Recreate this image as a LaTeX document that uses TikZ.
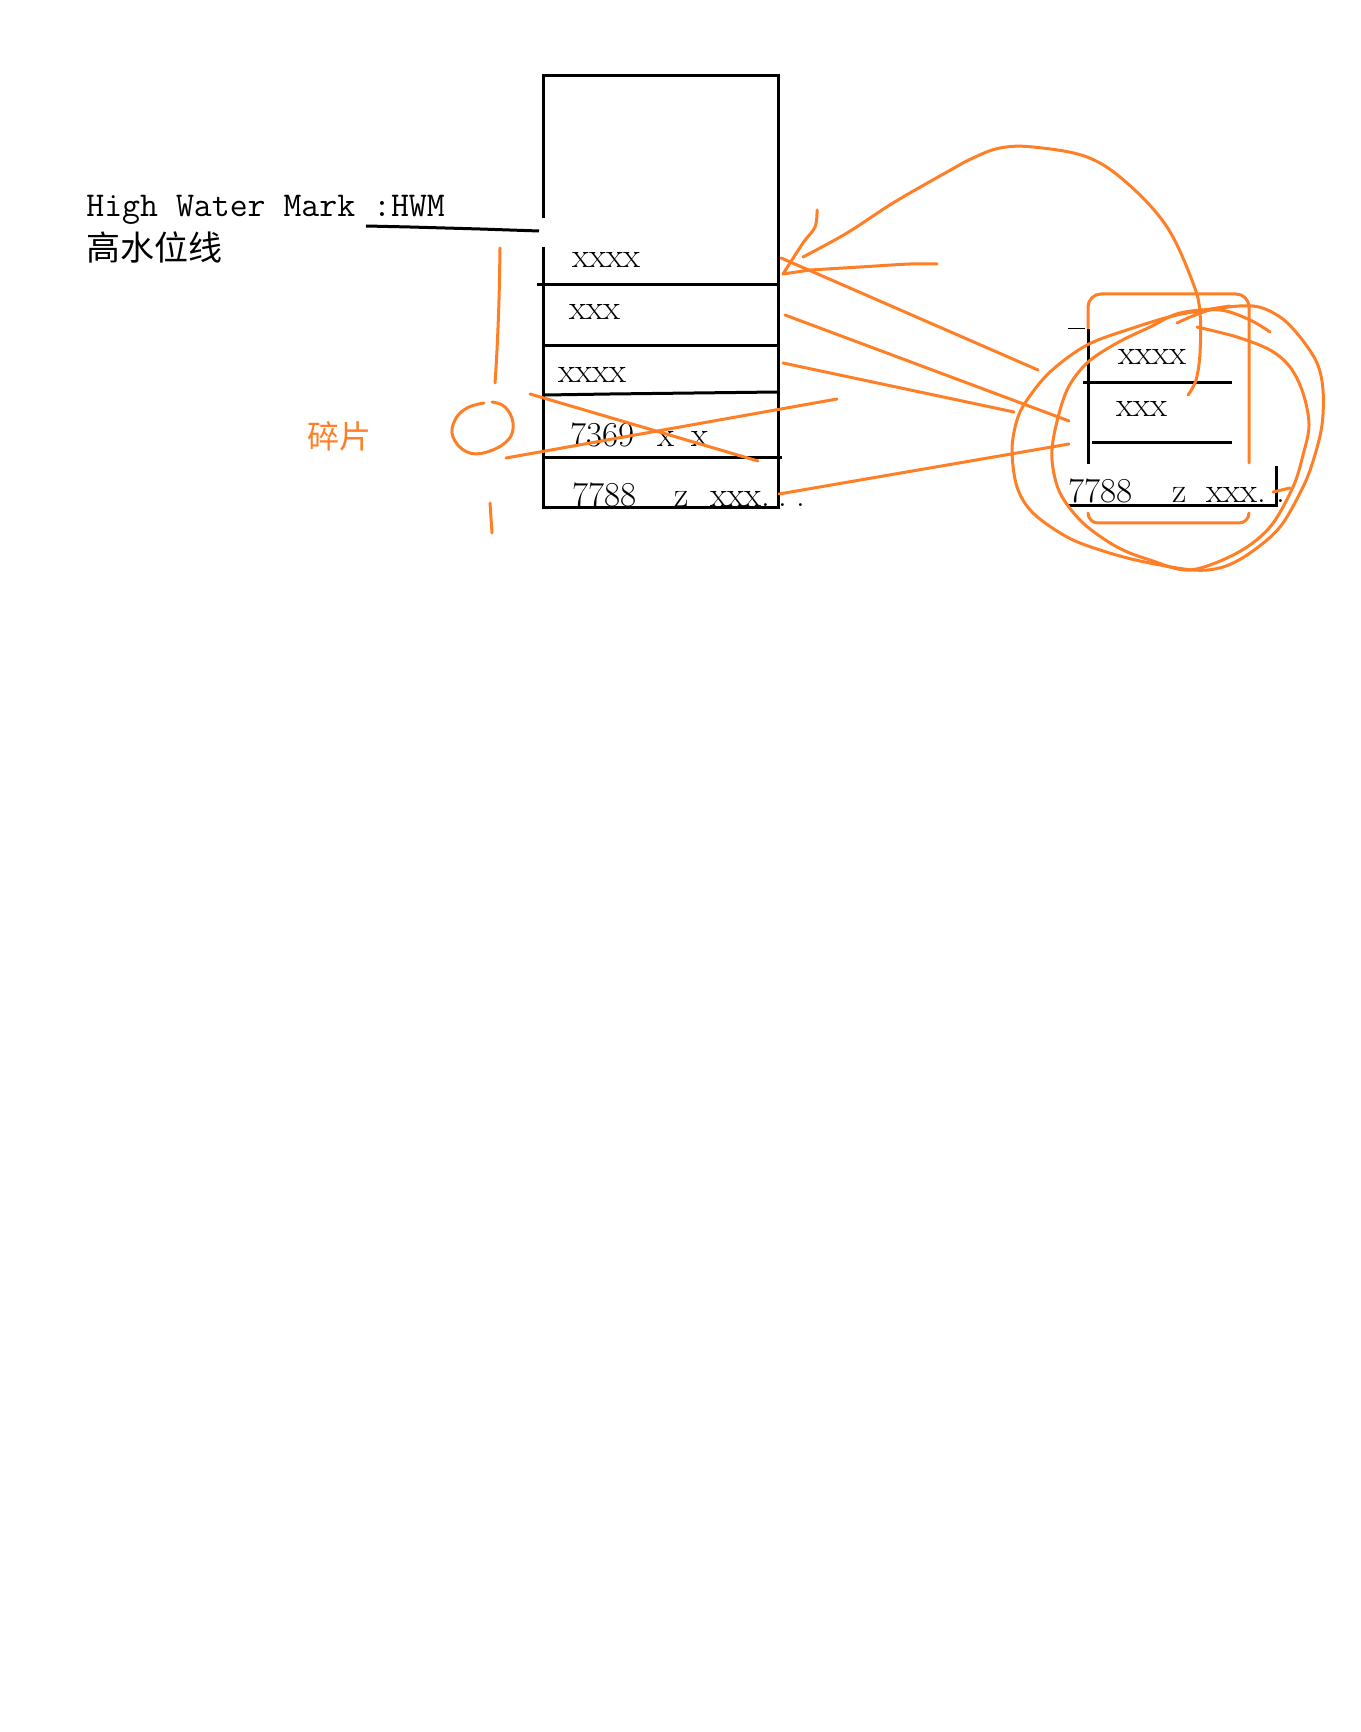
\documentclass[tikz,border=0pt]{standalone}
\usepackage{fontspec}
\newfontfamily\cjk{Noto Sans CJK SC}
\definecolor{hand}{RGB}{255,127,39}
\tikzset{
  blk/.style={line width=1.5pt, draw=black},
  thinblk/.style={line width=0.5pt, draw=black},
  org/.style={line width=1.5pt, draw=hand, line cap=round, line join=round},
  lbl/.style={anchor=base west, inner sep=0pt, font=\ttfamily\fontsize{17.4}{20}\selectfont},
  cjklbl/.style={anchor=base west, inner sep=0pt, font=\cjk\fontsize{17}{20}\selectfont},
  boxtxt/.style={anchor=base west, inner sep=0pt, font=\fontsize{17.5}{21}\selectfont},
  fragtxt/.style={anchor=center, inner sep=0pt, text=hand, font=\cjk\fontsize{16}{18}\selectfont},
}
\begin{document}
\begin{tikzpicture}[x=0.5pt,y=-0.5pt]
\fill[white] (0,0) rectangle (1360,1732);
\useasboundingbox (0,0) rectangle (1360,1732);

% ---- labels on the left
\node[lbl] (hwm) at (86,217) {High Water Mark :HWM};
\node[cjklbl] (gsw) at (86,261) {高水位线};
\draw[blk] (366,226) -- (410,227) -- (480,229) -- (539,231);
\node[fragtxt] (frag) at (339,436) {碎片};

% ---- main table
\draw[blk] (543,218) -- (543,76) -- (778,76) -- (778,508) -- (543,508) -- (543,247);
\draw[blk] (537,285) -- (778,285);
\draw[blk] (545,346) -- (778,346);
\draw[blk] (545,395) -- (610,394) -- (778,392);
\draw[blk] (543,458) -- (782,458);

\node[boxtxt] (r1) at (572,268) {xxxx};
\node[boxtxt] (r2) at (569,320) {xxx};
\node[boxtxt] (r3) at (558,383) {xxxx};
\node[boxtxt] (r4) at (570,447) {7369\hspace*{11.5pt}x\hspace*{8.5pt}x};
\node[boxtxt] (r5) at (572,507) {7788\hspace*{19pt}z\hspace*{11pt}xxx.\hspace*{4.2pt}.\hspace*{4.2pt}.};

% ---- small table on the right
\draw[thinblk] (1068,329) -- (1085,329);
\draw[blk] (1088,329) -- (1088,464);
\draw[blk] (1083,383) -- (1232,383);
\draw[blk] (1092,443) -- (1232,443);
\draw[blk] (1067,506) -- (1276,506) -- (1276,466);
\node[boxtxt] (s1) at (1118,365) {xxxx};
\node[boxtxt] (s2) at (1116,417) {xxx};
\node[boxtxt] (s3) at (1068,503) {7788\hspace*{20pt}z\hspace*{10pt}xxx.\hspace*{5pt}.};

% ---- orange marks on the left
\draw[org] plot[smooth, tension=0.6] coordinates {(500,248) (499,300) (497,350) (495,383)};
\draw[org] plot[smooth, tension=0.7] coordinates {(492,402) (505,407) (513,423) (508,440) (487,452) (467,452) (453,437) (455,420) (467,408) (484,403)};
\draw[org] (490,503) -- (492,533);
\draw[org] (530,394) -- (758,461);
\draw[org] (506,458) -- (837,399);

% ---- orange lines to the right
\draw[org] (781,258) -- (1038,370);
\draw[org] (785,315) -- (1069,421);
\draw[org] (783,363) -- (1014,412);
\draw[org] (779,494) -- (1069,444);
\draw[org] (1273,492) -- (1290,488);

% ---- rounded bracket around the small table
\draw[org, rounded corners=6.5pt] (1088,328) -- (1088,294) -- (1249,294) -- (1249,463);
\draw[org, rounded corners=5pt] (1088,513) -- (1088,523) -- (1249,523) -- (1249,513);

% ---- big arc with arrow back to the table
\draw[org] plot[smooth, tension=0.6] coordinates {(1188,395) (1196,380) (1200,353) (1200,313) (1193,283) (1167,227) (1127,183) (1087,157) (1033,147) (1000,148) (973,158) (947,172) (893,203) (847,233) (803,257)};
\draw[org] plot[smooth, tension=0.6] coordinates {(817,210) (815,227) (803,243) (783,274)} -- (810,270) -- plot[smooth, tension=0.6] coordinates {(810,270) (860,267) (910,264) (937,264)};

% ---- loops round the small table
\draw[org] plot[smooth, tension=0.55] coordinates {(1177,323) (1210,310) (1253,306) (1280,317) (1300,337) (1317,363) (1323,390) (1322,425) (1314,458) (1303,487) (1280,527) (1250,553) (1223,567) (1193,570) (1140,561) (1100,550) (1067,537) (1033,513) (1017,487) (1012,450) (1017,420) (1027,400) (1050,372) (1087,345) (1133,328) (1177,315) (1230,306)};
\draw[org] plot[smooth, tension=0.55] coordinates {(1197,327) (1237,337) (1270,350) (1290,367) (1303,393) (1309,425) (1303,455) (1293,487) (1270,527) (1237,553) (1190,570) (1150,560) (1117,547) (1083,523) (1060,493) (1052,460) (1055,430) (1067,390) (1087,363) (1117,343) (1150,327) (1180,313) (1220,310) (1250,320) (1270,332)};
\end{tikzpicture}
\end{document}
